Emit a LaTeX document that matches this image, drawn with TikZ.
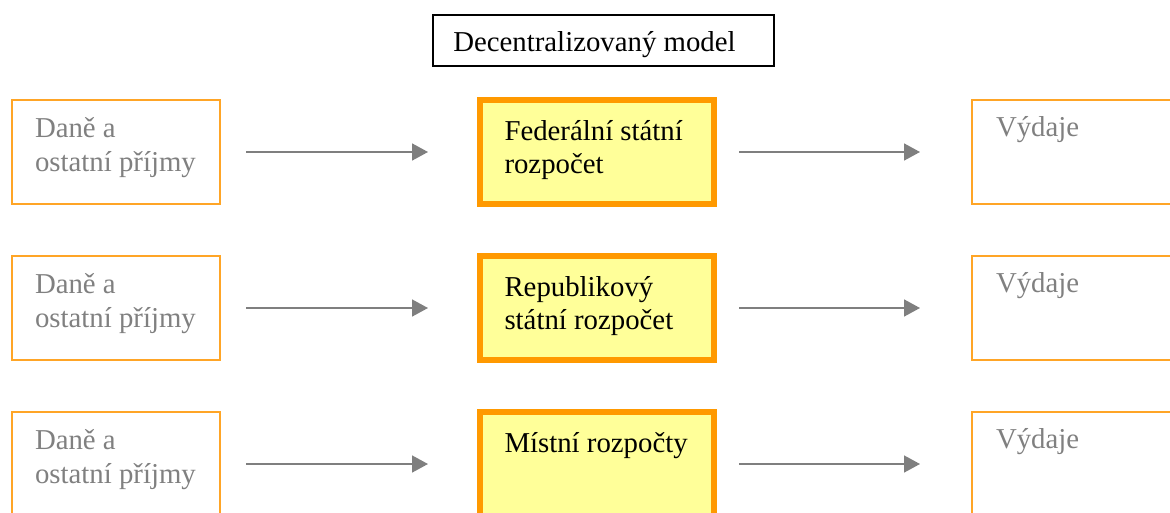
\documentclass[tikz,border=0pt]{standalone}
\usepackage{fontspec}
\setmainfont{Liberation Serif}
\usetikzlibrary{arrows.meta,positioning}
\definecolor{lineorange}{HTML}{FFA526}
\definecolor{boldorange}{HTML}{FF9900}
\definecolor{paleyellow}{HTML}{FFFF99}
\definecolor{textgray}{HTML}{808080}
\definecolor{arrowgray}{HTML}{7F7F7F}
\tikzset{
  every node/.style={inner sep=0pt, outer sep=0pt},
  srcbox/.style={draw=lineorange, line width=2pt, minimum width=208pt, minimum height=104pt},
  budget/.style={draw=boldorange, fill=paleyellow, line width=6pt, minimum width=234pt, minimum height=104pt},
  outbox/.style={draw=lineorange, line width=2pt, minimum width=208pt, minimum height=104pt},
  headbox/.style={draw=black, line width=1.5pt, minimum width=341pt, minimum height=51pt},
  txt/.style={anchor=base west, align=left, font=\fontsize{28.8}{33.3}\selectfont},
  graytxt/.style={txt, text=textgray},
  flow/.style={draw=arrowgray, line width=1.6pt, -{Triangle[length=16pt, width=17pt]}}
}
\begin{document}
\begin{tikzpicture}[x=1pt, y=-1pt]
  \useasboundingbox (0,0) rectangle (1170,512);

  % heading
  \node[headbox] (headframe) at (603.5,40.5) {};
  \node[txt] (heading) at (453.3,51.7) {Decentralizovaný model};

  % three levels: revenues -> budget -> expenditures
  % (\dy is the baseline of the last line of the budget label below the box top)
  \foreach \r/\dy/\lab in {0/73.3/{Federální státní\\rozpočet}, 1/73.3/{Republikový\\státní rozpočet}, 2/40/{Místní rozpočty}} {
    \pgfmathsetmacro{\top}{100+156*\r}
    \node[srcbox, anchor=north west] (src\r) at (12,\top) {};
    \node[budget, anchor=north west] (bud\r) at (480,\top) {};
    \node[outbox, anchor=north west] (out\r) at (972,\top) {};
    \node[graytxt] (srct\r) at ([xshift=23pt, yshift=-71pt]src\r.north west) {Daně a\\ostatní příjmy};
    \node[txt] (budt\r) at ([xshift=24.5pt, yshift=-\dy pt]bud\r.north west) {\lab};
    \node[graytxt] (outt\r) at ([xshift=24pt, yshift=-36.7pt]out\r.north west) {Výdaje};
    \draw[flow] ([xshift=26pt]src\r.east) -- ([xshift=-52pt]bud\r.west);
    \draw[flow] ([xshift=25pt]bud\r.east) -- ([xshift=-52pt]out\r.west);
  }
\end{tikzpicture}
\end{document}
